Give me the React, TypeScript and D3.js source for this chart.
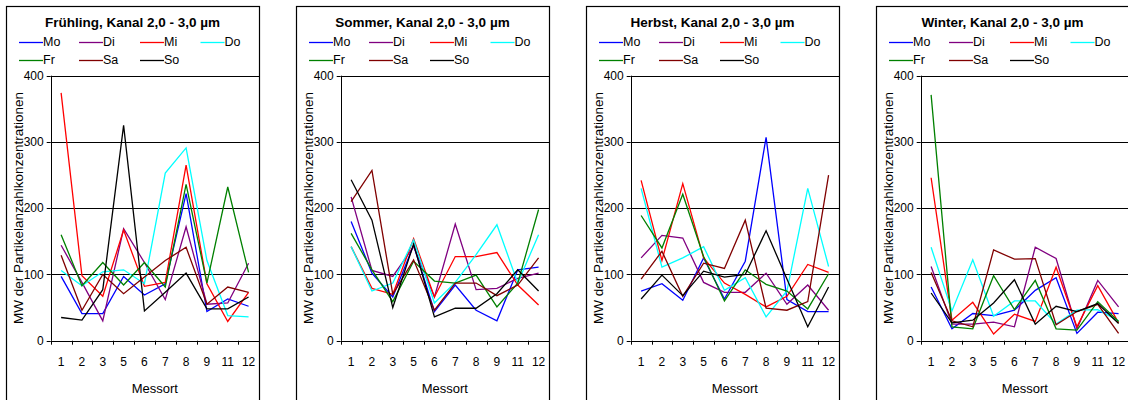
import React from "react";
import * as d3 from "d3";

const categories = ["1", "2", "3", "5", "6", "7", "8", "9", "11", "12"];
const seriesNames = ["Mo", "Di", "Mi", "Do", "Fr", "Sa", "So"];
const seriesColors = ["#0000ff", "#800080", "#ff0000", "#00ffff", "#008000", "#800000", "#000000"];
const panelTitles = [
  "Frühling, Kanal 2,0 - 3,0 µm",
  "Sommer, Kanal 2,0 - 3,0 µm",
  "Herbst, Kanal 2,0 - 3,0 µm",
  "Winter, Kanal 2,0 - 3,0 µm",
];
const yTicks = [0, 100, 200, 300, 400];
const xAxisTitle = "Messort";
const yAxisTitle = "MW der Partikelanzahlkonzentrationen";

// series order: Mo, Di, Mi, Do, Fr, Sa, So
const fruehlingValues = [
  [97, 41, 41, 97, 69, 86, 222, 44, 63, 52],
  [144, 88, 30, 169, 118, 62, 172, 55, 57, 117],
  [374, 98, 67, 167, 82, 88, 265, 86, 29, 73],
  [106, 83, 104, 107, 86, 253, 291, 121, 38, 36],
  [160, 83, 118, 84, 118, 81, 236, 87, 232, 103],
  [129, 46, 100, 71, 96, 121, 141, 55, 81, 73],
  [35, 31, 77, 325, 45, 73, 102, 48, 48, 66],
];
const sommerValues = [
  [180, 102, 66, 144, 44, 84, 46, 30, 107, 111],
  [217, 106, 97, 142, 66, 176, 77, 79, 94, 102],
  [142, 79, 70, 154, 66, 127, 127, 133, 84, 54],
  [142, 75, 87, 152, 57, 88, 130, 175, 87, 160],
  [162, 107, 59, 120, 90, 87, 99, 51, 87, 198],
  [210, 257, 70, 122, 46, 87, 87, 68, 84, 125],
  [243, 182, 50, 146, 36, 49, 49, 71, 107, 75],
];
const herbstValues = [
  [75, 86, 61, 125, 63, 120, 307, 62, 44, 44],
  [125, 159, 155, 88, 73, 73, 102, 55, 84, 46],
  [242, 121, 237, 125, 87, 70, 51, 67, 115, 103],
  [230, 111, 125, 142, 76, 95, 36, 75, 230, 112],
  [189, 140, 221, 127, 60, 107, 85, 75, 48, 101],
  [93, 135, 67, 117, 109, 182, 49, 46, 59, 250],
  [63, 99, 68, 105, 96, 100, 166, 93, 21, 81],
];
const winterValues = [
  [81, 18, 41, 38, 46, 76, 95, 11, 43, 41],
  [112, 25, 25, 28, 21, 141, 124, 18, 91, 51],
  [246, 31, 58, 10, 40, 29, 111, 21, 83, 27],
  [141, 45, 122, 37, 60, 60, 25, 46, 47, 30],
  [371, 21, 18, 98, 47, 91, 18, 16, 59, 29],
  [103, 30, 21, 137, 123, 124, 24, 44, 55, 11],
  [72, 27, 31, 57, 92, 25, 52, 44, 56, 26],
];
const panelValues = [fruehlingValues, sommerValues, herbstValues, winterValues];

const FONT = "'Liberation Sans', Arial, sans-serif";

function Panel({ index }: { index: number }) {
  const left = 6 + 290 * index;
  const top = 6;
  const width = 253;
  const plotLeft = left + 44.7;
  const plotRight = left + width;
  const x = d3.scaleBand<string>().domain(categories).range([plotLeft, plotRight]).padding(0);
  const y = d3.scaleLinear().domain([0, 400]).range([340.7, 75.7]);
  const values = panelValues[index];
  const line = d3
    .line<number>()
    .x((_, i) => (x(categories[i]) as number) + x.bandwidth() / 2)
    .y((v) => y(v));
  const bw = x.bandwidth();
  const boundaries = categories.map((c) => x(c) as number).concat([plotRight]);
  const legendCols = [13, 73, 134, 194.5];
  const legendRows = [42, 60];
  return (
    <g>
      {/* gridlines */}
      {yTicks.slice(1).map((t) => (
        <line key={t} x1={plotLeft} x2={plotRight} y1={Math.round(y(t)) + 0.5} y2={Math.round(y(t)) + 0.5} stroke="#000" strokeWidth={1} />
      ))}
      {/* axes */}
      <line x1={Math.round(plotLeft) + 0.5} x2={Math.round(plotLeft) + 0.5} y1={y(400)} y2={y(0)} stroke="#000" strokeWidth={1} />
      <line x1={plotLeft} x2={plotRight} y1={Math.round(y(0)) + 0.5} y2={Math.round(y(0)) + 0.5} stroke="#000" strokeWidth={1} />
      {yTicks.map((t) => (
        <g key={t}>
          <line x1={plotLeft - 4} x2={plotLeft} y1={Math.round(y(t)) + 0.5} y2={Math.round(y(t)) + 0.5} stroke="#000" />
          <text x={plotLeft - 7} y={y(t)} dy="0.35em" textAnchor="end" fontSize={12} fontFamily={FONT} fill="#000">
            {t}
          </text>
        </g>
      ))}
      {boundaries.map((b, i) => (
        <line key={i} x1={Math.round(b) + 0.5} x2={Math.round(b) + 0.5} y1={y(0)} y2={y(0) + 4} stroke="#000" />
      ))}
      {categories.map((c) => (
        <text key={c} x={(x(c) as number) + bw / 2} y={362} dy="0.35em" textAnchor="middle" fontSize={12} fontFamily={FONT} fill="#000">
          {c}
        </text>
      ))}
      <text x={(plotLeft + plotRight) / 2} y={388} dy="0.35em" textAnchor="middle" fontSize={13} fontFamily={FONT} fill="#000">
        {xAxisTitle}
      </text>
      <text
        transform={`translate(${left + 12},208) rotate(-90)`}
        textAnchor="middle"
        dy="0.35em"
        fontSize={13.5}
        fontFamily={FONT}
        fill="#000"
      >
        {yAxisTitle}
      </text>
      {/* series */}
      {values.map((vals, si) => (
        <path key={si} d={line(vals) as string} fill="none" stroke={seriesColors[si]} strokeWidth={1.3} strokeLinejoin="miter" />
      ))}
      {/* title */}
      <text x={left + width / 2} y={22} dy="0.35em" textAnchor="middle" fontSize={13.5} fontWeight="bold" fontFamily={FONT} fill="#000">
        {panelTitles[index]}
      </text>
      {/* legend */}
      {seriesNames.map((name, i) => {
        const cx = left + legendCols[i % 4];
        const cy = legendRows[Math.floor(i / 4)];
        return (
          <g key={name}>
            <line x1={cx} x2={cx + 24} y1={cy + 0.5} y2={cy + 0.5} stroke={seriesColors[i]} strokeWidth={1.3} />
            <text x={cx + 24} y={cy} dy="0.35em" fontSize={12.5} fontFamily={FONT} fill="#000">
              {name}
            </text>
          </g>
        );
      })}
      {/* border */}
      <rect x={left + 0.5} y={top + 0.5} width={width} height={420} fill="none" stroke="#000" strokeWidth={1.2} />
    </g>
  );
}

export default function App() {
  return (
    <svg
      width={1128}
      height={400}
      style={{ position: "absolute", left: 0, top: 0, background: "#fff" }}
      xmlns="http://www.w3.org/2000/svg"
    >
      <rect x={0} y={0} width={1128} height={400} fill="#fff" />
      {panelTitles.map((_, i) => (
        <Panel key={i} index={i} />
      ))}
    </svg>
  );
}
